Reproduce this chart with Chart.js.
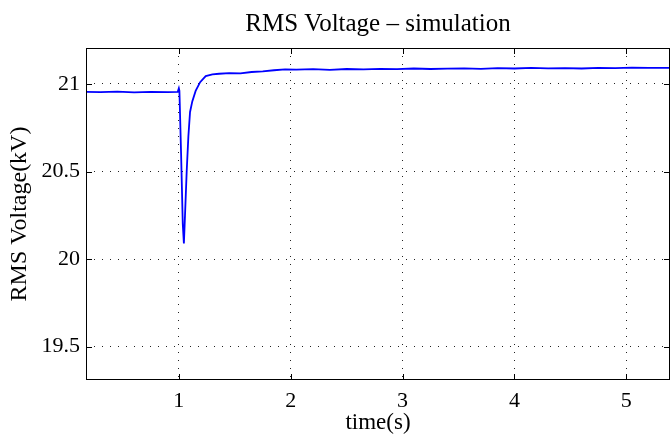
<!DOCTYPE html>
<html>
<head>
<meta charset="utf-8">
<script src="https://cdn.jsdelivr.net/npm/chart.js@4"></script>
<style>
  html, body { margin: 0; padding: 0; background: #fff; }
  #wrap { width: 671px; height: 434px; }
</style>
</head>
<body>
<div id="wrap"><canvas id="rmsChart" width="671" height="434"></canvas></div>
<script>
// values
const timeS = [0.17, 0.3, 0.45, 0.6, 0.75, 0.9, 0.99, 1.0, 1.005, 1.02, 1.035, 1.045, 1.055, 1.07, 1.085,
  1.1, 1.12, 1.15, 1.19, 1.24, 1.3, 1.36, 1.45, 1.55, 1.65, 1.75, 1.85, 1.95, 2.05, 2.2, 2.35, 2.5, 2.65, 2.8,
  2.95, 3.1, 3.25, 3.4, 3.55, 3.7, 3.85, 4.0, 4.15, 4.3, 4.45, 4.6, 4.75, 4.9, 5.05, 5.2, 5.39];
const voltageKV = [20.955, 20.953, 20.956, 20.952, 20.955, 20.953, 20.955, 20.975, 20.96, 20.6, 20.2, 20.09, 20.25, 20.5, 20.7,
  20.84, 20.9, 20.96, 21.01, 21.045, 21.055, 21.058, 21.062, 21.06, 21.068, 21.072, 21.078, 21.083, 21.081, 21.084, 21.08, 21.085, 21.083, 21.086,
  21.084, 21.088, 21.085, 21.087, 21.089, 21.086, 21.09, 21.088, 21.091, 21.089, 21.09, 21.088, 21.092, 21.09, 21.093, 21.091, 21.092];
const xTicks = [1, 2, 3, 4, 5];
const yTicks = [19.5, 20, 20.5, 21];
const chartTitle = "RMS Voltage \u2013 simulation";

const serif = "'Liberation Serif', 'Times New Roman', serif";

// box around the plot, short inward tick marks and a title centred on the axes, like matlab
const frameBox = {
  id: "frameBox",
  afterDraw(chart) {
    const { ctx, chartArea: a, scales } = chart;
    ctx.save();
    ctx.strokeStyle = "#000";
    ctx.lineWidth = 1;
    ctx.strokeRect(a.left + 0.5, a.top + 0.5, a.right - a.left - 1, a.bottom - a.top - 1);
    ctx.beginPath();
    xTicks.forEach((t) => {
      const x = Math.round(scales.x.getPixelForValue(t)) + 0.5;
      ctx.moveTo(x, a.bottom); ctx.lineTo(x, a.bottom - 6);
      ctx.moveTo(x, a.top); ctx.lineTo(x, a.top + 6);
    });
    yTicks.forEach((t) => {
      const y = Math.round(scales.y.getPixelForValue(t)) + 0.5;
      ctx.moveTo(a.left, y); ctx.lineTo(a.left + 6, y);
      ctx.moveTo(a.right, y); ctx.lineTo(a.right - 6, y);
    });
    ctx.stroke();

    ctx.fillStyle = "#000";
    ctx.font = "25px " + serif;
    ctx.textAlign = "center";
    ctx.textBaseline = "alphabetic";
    ctx.fillText(chartTitle, (a.left + a.right) / 2, 31);
    ctx.restore();
  },
};

new Chart(document.getElementById("rmsChart").getContext("2d"), {
  type: "line",
  data: {
    datasets: [{
      data: timeS.map((t, i) => ({ x: t, y: voltageKV[i] })),
      borderColor: "#0000ff",
      borderWidth: 1.8,
      pointRadius: 0,
      tension: 0,
    }],
  },
  options: {
    responsive: false,
    animation: false,
    layout: { padding: { right: 1, top: 48, left: 0, bottom: 0 } },
    plugins: {
      legend: { display: false },
      tooltip: { enabled: false },
      title: { display: false },
    },
    scales: {
      x: {
        type: "linear",
        min: 0.17,
        max: 5.39,
        afterBuildTicks: (s) => { s.ticks = xTicks.map((v) => ({ value: v })); },
        afterFit: (s) => { s.height = 54; },
        grid: { color: "#222", lineWidth: 1, drawTicks: false },
        border: { display: false, dash: [1, 7] },
        ticks: { color: "#000", font: { family: serif, size: 22 }, padding: 8, maxRotation: 0, callback: (v) => String(v) },
        title: { display: true, text: "time(s)", color: "#000", font: { family: serif, size: 23 }, padding: { top: 0, bottom: -3 } },
      },
      y: {
        min: 19.31,
        max: 21.205,
        afterBuildTicks: (s) => { s.ticks = yTicks.map((v) => ({ value: v })); },
        afterFit: (s) => { s.width = 86; },
        grid: { color: "#222", lineWidth: 1, drawTicks: false },
        border: { display: false, dash: [1, 7] },
        ticks: { color: "#000", font: { family: serif, size: 22 }, padding: 6, callback: (v) => String(v) },
        title: { display: true, text: "RMS Voltage(kV)", color: "#000", font: { family: serif, size: 24 }, padding: { top: 5, bottom: 0 } },
      },
    },
  },
  plugins: [frameBox],
});
</script>
</body>
</html>
